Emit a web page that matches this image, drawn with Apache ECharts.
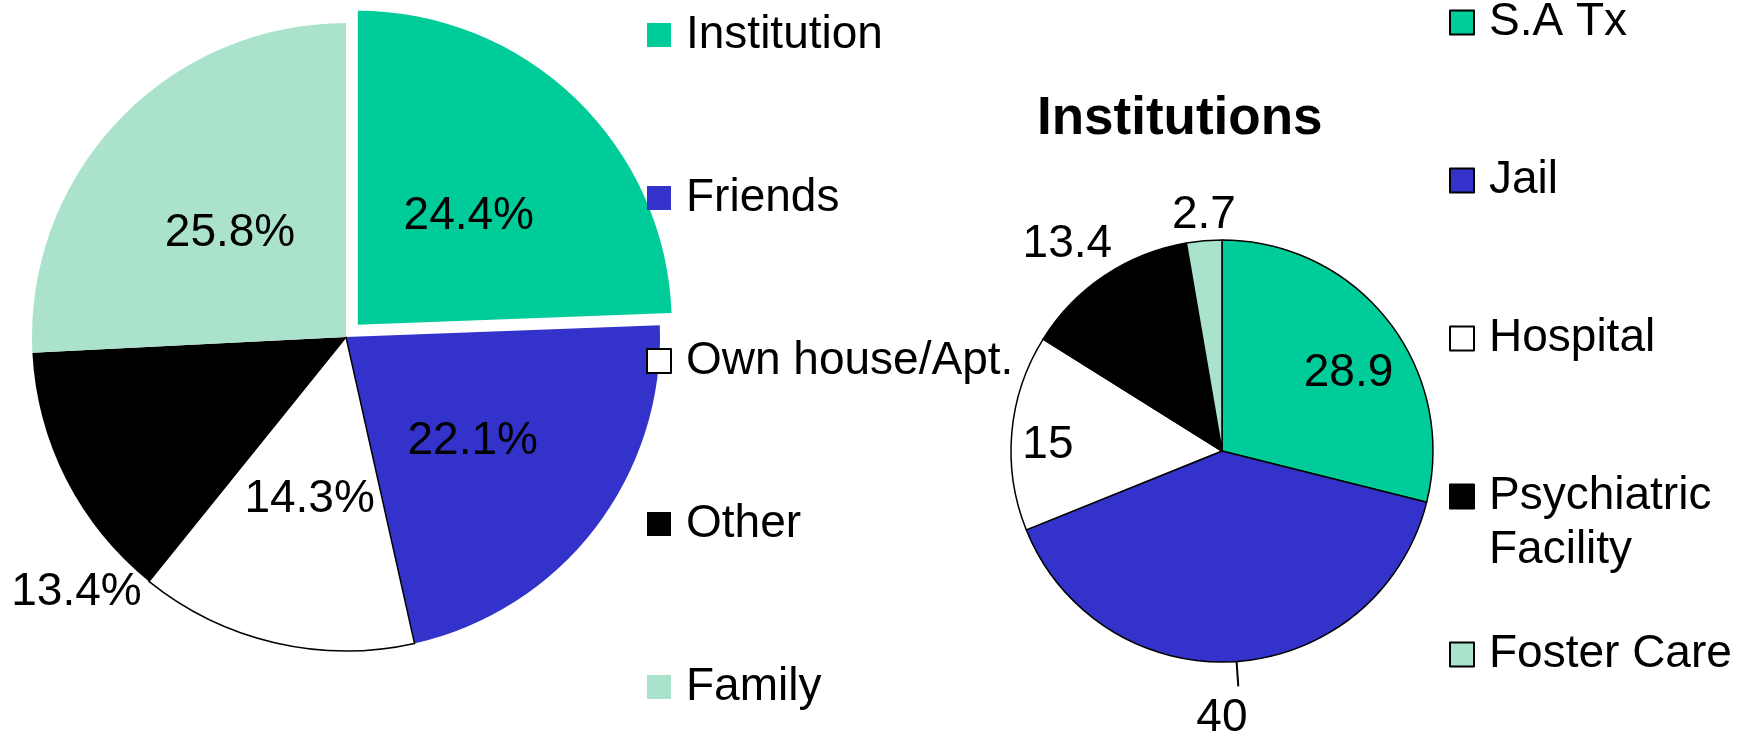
<!DOCTYPE html>
<html>
<head>
<meta charset="utf-8">
<script src="https://cdn.jsdelivr.net/npm/echarts@6/dist/echarts.min.js"></script>
<style>
  html, body { margin: 0; padding: 0; background: #fff; }
  #main { width: 1748px; height: 739px; }
</style>
</head>
<body>
<div id="main"></div>
<script>
// where they lived
const homeCategories = ['Institution', 'Friends', 'Own house/Apt.', 'Other', 'Family'];
const homeValues = [24.4, 22.1, 14.3, 13.4, 25.8];

// breakdown of institutions
const instCategories = ['S.A Tx', 'Jail', 'Hospital', 'Psychiatric Facility', 'Foster Care'];
const instValues = [28.9, 40, 15, 13.4, 2.7];

const homeColors = ['#00cc99', '#3333cc', '#ffffff', '#000000', '#aae2cc'];
const instColors = ['#00cc99', '#3333cc', '#ffffff', '#000000', '#aae2cc'];

// label nudges (px) from the default spot
const homeLabelShift = [[0, 7], [0, 7], [0, 7], [-127, 183], [0, 7]];
const instLabelShift = [[41, -11], [-47, 32], [-66, 4], [51, -19], [68, -11]];
const instLabelPos = ['inside', 'outside', 'inside', 'outside', 'outside'];

// legend rows (centre y)
const instLegendY = [17.5, 175.5, 333.5, 491.5, 649.5];

const FONT = 'Liberation Sans, Arial, sans-serif';
const chart = echarts.init(document.getElementById('main'));

const homeData = homeCategories.map((name, i) => ({
  name: name,
  value: homeValues[i],
  selected: i === 0,
  itemStyle: {
    color: homeColors[i],
    borderColor: '#000',
    borderWidth: name === 'Own house/Apt.' ? 1.5 : 0
  }
}));

const instData = instCategories.map((name, i) => ({
  name: name,
  value: instValues[i],
  itemStyle: { color: instColors[i] },
  label: { position: instLabelPos[i] },
  labelLine: i === 1
    ? { show: true, length: 25, length2: 0, lineStyle: { color: '#000', width: 2 } }
    : { show: false }
}));

const legends = [{
  orient: 'vertical',
  left: 646,
  top: 10,
  padding: 0,
  itemGap: 113,
  itemWidth: 24,
  itemHeight: 24,
  icon: 'rect',
  selectedMode: false,
  textStyle: { fontFamily: FONT, fontSize: 46, lineHeight: 46, color: '#000', padding: [4, 0, 0, 10] },
  data: homeCategories.map((name, i) => ({
    name: name,
    itemStyle: name === 'Own house/Apt.'
      ? { color: '#fff', borderColor: '#000', borderWidth: 2 }
      : { color: homeColors[i], borderWidth: 0 }
  }))
}];

instCategories.forEach((name, i) => {
  const twoLine = name === 'Psychiatric Facility';
  const lh = twoLine ? 54 : 46;
  legends.push({
    orient: 'vertical',
    left: 1449,
    top: (twoLine ? instLegendY[i] - lh * 1.5 : instLegendY[i] - lh / 2) + 3,
    padding: 0,
    itemWidth: 24,
    itemHeight: 24,
    icon: 'rect',
    selectedMode: false,
    // blank first line keeps the box on the "Psychiatric" row
    formatter: n => twoLine ? '\nPsychiatric\nFacility' : n,
    textStyle: { fontFamily: FONT, fontSize: 46, lineHeight: lh, color: '#000', padding: [4, 0, 0, 10] },
    data: [{ name: name, itemStyle: { color: instColors[i], borderColor: '#000', borderWidth: 2 } }]
  });
});

chart.setOption({
  animation: false,
  backgroundColor: '#fff',
  title: {
    text: 'Institutions',
    left: 1037,
    top: 93,
    padding: 0,
    textStyle: { fontFamily: FONT, fontSize: 53, fontWeight: 'bold', lineHeight: 53, color: '#000' }
  },
  legend: legends,
  series: [
    {
      name: 'Home',
      type: 'pie',
      center: [346, 337],
      radius: [0, 314],
      startAngle: 90,
      clockwise: true,
      selectedMode: 'single',
      selectedOffset: 17,
      avoidLabelOverlap: false,
      emphasis: { disabled: true },
      label: {
        show: true,
        position: 'inside',
        formatter: '{c}%',
        fontFamily: FONT,
        fontSize: 46,
        color: '#000'
      },
      labelLine: { show: false },
      labelLayout: p => ({ dx: homeLabelShift[p.dataIndex][0], dy: homeLabelShift[p.dataIndex][1] }),
      data: homeData
    },
    {
      name: 'Institutions',
      type: 'pie',
      center: [1222, 451],
      radius: [0, 211],
      startAngle: 90,
      clockwise: true,
      avoidLabelOverlap: false,
      emphasis: { disabled: true },
      itemStyle: { borderColor: '#000', borderWidth: 1.5 },
      label: {
        show: true,
        formatter: '{c}',
        fontFamily: FONT,
        fontSize: 46,
        color: '#000'
      },
      labelLayout: p => ({ dx: instLabelShift[p.dataIndex][0], dy: instLabelShift[p.dataIndex][1] }),
      data: instData
    }
  ]
});
</script>
</body>
</html>
